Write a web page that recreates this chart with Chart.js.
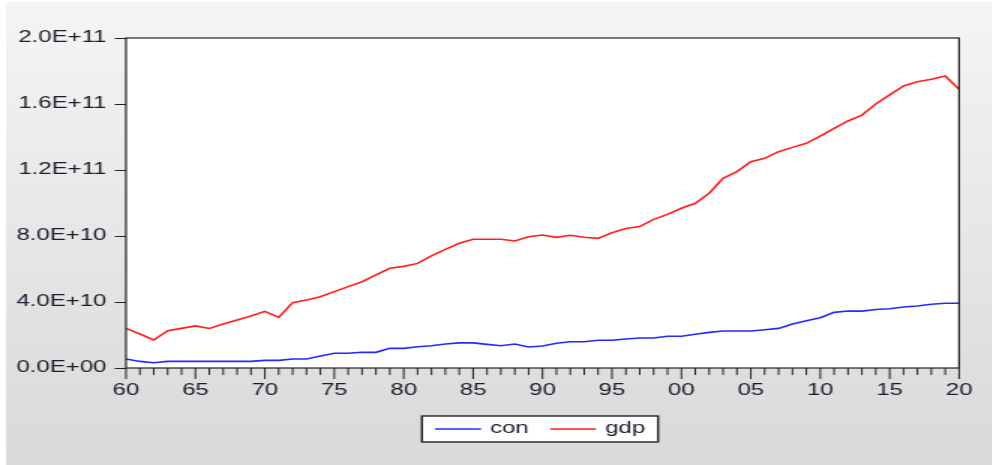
<!DOCTYPE html>
<html>
<head>
<meta charset="utf-8">
<script src="https://cdn.jsdelivr.net/npm/chart.js@4.4.0/dist/chart.umd.min.js"></script>
<style>
  html, body { margin: 0; padding: 0; background: #ffffff; overflow: hidden; }
  /* the reference screenshot is stretched sideways, so draw narrow and widen */
  #wrap { position: absolute; left: 0; top: 0; width: 661.34px; height: 465px; transform: scaleX(1.5); transform-origin: 0 0; }
</style>
</head>
<body>
<div id="wrap"><canvas id="chart"></canvas></div>
<script>
const years = [1960, 1961, 1962, 1963, 1964, 1965, 1966, 1967, 1968, 1969,
               1970, 1971, 1972, 1973, 1974, 1975, 1976, 1977, 1978, 1979,
               1980, 1981, 1982, 1983, 1984, 1985, 1986, 1987, 1988, 1989,
               1990, 1991, 1992, 1993, 1994, 1995, 1996, 1997, 1998, 1999,
               2000, 2001, 2002, 2003, 2004, 2005, 2006, 2007, 2008, 2009,
               2010, 2011, 2012, 2013, 2014, 2015, 2016, 2017, 2018, 2019, 2020];

const con = [5.5e9, 4.0e9, 3.2e9, 4.0e9, 4.0e9, 4.0e9, 4.0e9, 4.0e9, 4.0e9, 4.0e9,
             4.6e9, 4.6e9, 5.5e9, 5.5e9, 7.3e9, 8.9e9, 8.9e9, 9.5e9, 9.5e9, 11.9e9,
             11.9e9, 12.9e9, 13.5e9, 14.5e9, 15.2e9, 15.2e9, 14.3e9, 13.5e9, 14.5e9, 12.7e9,
             13.3e9, 15.0e9, 15.9e9, 15.9e9, 16.8e9, 16.8e9, 17.6e9, 18.2e9, 18.2e9, 19.2e9,
             19.2e9, 20.4e9, 21.6e9, 22.4e9, 22.4e9, 22.4e9, 23.2e9, 24.0e9, 26.7e9, 28.7e9,
             30.5e9, 33.7e9, 34.5e9, 34.5e9, 35.5e9, 35.9e9, 37.0e9, 37.6e9, 38.6e9, 39.2e9, 39.2e9];

const gdp = [24.0e9, 20.6e9, 17.0e9, 22.6e9, 24.0e9, 25.5e9, 24.0e9, 26.7e9, 29.1e9, 31.5e9,
             34.3e9, 30.7e9, 39.6e9, 41.2e9, 43.2e9, 46.3e9, 49.3e9, 52.3e9, 56.4e9, 60.4e9,
             61.6e9, 63.4e9, 67.9e9, 71.9e9, 75.6e9, 78.0e9, 78.0e9, 78.0e9, 77.0e9, 79.6e9,
             80.6e9, 79.2e9, 80.4e9, 79.2e9, 78.6e9, 82.0e9, 84.6e9, 85.7e9, 90.1e9, 93.1e9,
             96.8e9, 99.8e9, 105.9e9, 115.0e9, 119.0e9, 125.0e9, 127.1e9, 131.1e9, 133.7e9, 136.2e9,
             140.6e9, 145.2e9, 149.7e9, 153.3e9, 160.0e9, 165.5e9, 170.9e9, 173.5e9, 175.0e9, 177.0e9, 168.9e9];

const seriesNames = ["con", "gdp"];
const yTicks = [0, 4e10, 8e10, 1.2e11, 1.6e11, 2e11];

const FONT = "'Liberation Sans', Arial, sans-serif";
const TEXT = "#1c1c2c";

// EViews style 2.0E+11 / 0.0E+00
function sci(v) {
    if (v === 0) return "0.0E+00";
    const exp = Math.floor(Math.log10(Math.abs(v)) + 1e-9);
    const man = v / Math.pow(10, exp);
    return man.toFixed(1) + "E+" + String(exp).padStart(2, "0");
}

function toPoints(vals) {
    return years.map((yr, i) => ({ x: yr, y: vals[i] }));
}

// grey window background + white plot panel
const backdrop = {
    id: "backdrop",
    beforeDraw(chart) {
        const { ctx, width, height, chartArea } = chart;
        ctx.save();
        ctx.fillStyle = "#ffffff";
        ctx.fillRect(0, 0, width, height);
        const g = ctx.createLinearGradient(0, 0, 0, height);
        g.addColorStop(0, "#f5f5f5");
        g.addColorStop(1, "#d9d9d9");
        ctx.fillStyle = g;
        ctx.fillRect(4, 2, width - 4, height - 2);
        ctx.fillStyle = "#ffffff";
        ctx.fillRect(chartArea.left, chartArea.top, chartArea.right - chartArea.left, chartArea.bottom - chartArea.top);
        ctx.restore();
    }
};

// frame, tick marks and boxed legend
const frame = {
    id: "frame",
    afterDraw(chart) {
        const { ctx, chartArea } = chart;
        const xs = chart.scales.x, ys = chart.scales.y;
        ctx.save();
        ctx.strokeStyle = "#222222";
        ctx.lineWidth = 1.2;
        ctx.strokeRect(chartArea.left, chartArea.top, chartArea.right - chartArea.left, chartArea.bottom - chartArea.top);

        ctx.lineWidth = 1;
        ctx.beginPath();
        yTicks.forEach(v => {
            const py = Math.round(ys.getPixelForValue(v)) + 0.5;
            ctx.moveTo(chartArea.left - 7.5, py);
            ctx.lineTo(chartArea.left, py);
        });
        years.forEach(yr => {
            const px = xs.getPixelForValue(yr);
            const len = yr % 5 === 0 ? 11 : 7;
            ctx.moveTo(px, chartArea.bottom);
            ctx.lineTo(px, chartArea.bottom + len);
        });
        ctx.stroke();

        // legend box
        const bx = 281.3, by = 416, bw = 157.4, bh = 26;
        ctx.fillStyle = "#ffffff";
        ctx.fillRect(bx, by, bw, bh);
        ctx.lineWidth = 1.4;
        ctx.strokeStyle = "#222222";
        ctx.strokeRect(bx, by, bw, bh);

        const cy = by + bh / 2;
        ctx.font = "16px " + FONT;
        ctx.textBaseline = "middle";
        ctx.textAlign = "left";
        chart.data.datasets.forEach((ds, i) => {
            const lx = bx + 8.7 + i * 76.7;
            ctx.strokeStyle = ds.borderColor;
            ctx.lineWidth = 1.5;
            ctx.beginPath();
            ctx.moveTo(lx, cy);
            ctx.lineTo(lx + 30.7, cy);
            ctx.stroke();
            ctx.fillStyle = TEXT;
            ctx.fillText(ds.label, lx + 36.7, cy);
        });
        ctx.restore();
    }
};

const ctx = document.getElementById("chart").getContext("2d");
new Chart(ctx, {
    type: "line",
    data: {
        datasets: [
            { label: seriesNames[0], data: toPoints(con), borderColor: "rgb(40,40,255)", borderWidth: 1.6, pointRadius: 0, tension: 0, fill: false },
            { label: seriesNames[1], data: toPoints(gdp), borderColor: "rgb(255,30,30)", borderWidth: 1.6, pointRadius: 0, tension: 0, fill: false }
        ]
    },
    options: {
        responsive: true,
        maintainAspectRatio: false,
        animation: false,
        layout: { padding: { top: 38, right: 21.8, bottom: 0, left: 0 } },
        plugins: {
            legend: { display: false },
            tooltip: { enabled: false }
        },
        scales: {
            x: {
                type: "linear",
                min: 1960,
                max: 2020,
                grid: { display: false, drawTicks: false },
                border: { display: false },
                ticks: {
                    stepSize: 5,
                    autoSkip: false,
                    maxRotation: 0,
                    padding: 13,
                    color: TEXT,
                    font: { family: FONT, size: 16 },
                    callback: v => String(v % 100).padStart(2, "0")
                },
                afterFit: s => { s.height = 97; }
            },
            y: {
                min: 0,
                max: 2e11,
                grid: { display: false, drawTicks: false },
                border: { display: false },
                ticks: {
                    stepSize: 4e10,
                    padding: 13,
                    color: TEXT,
                    font: { family: FONT, size: 16 },
                    callback: v => sci(v)
                },
                afterFit: s => { s.width = 84; }
            }
        }
    },
    plugins: [backdrop, frame]
});
</script>
</body>
</html>
